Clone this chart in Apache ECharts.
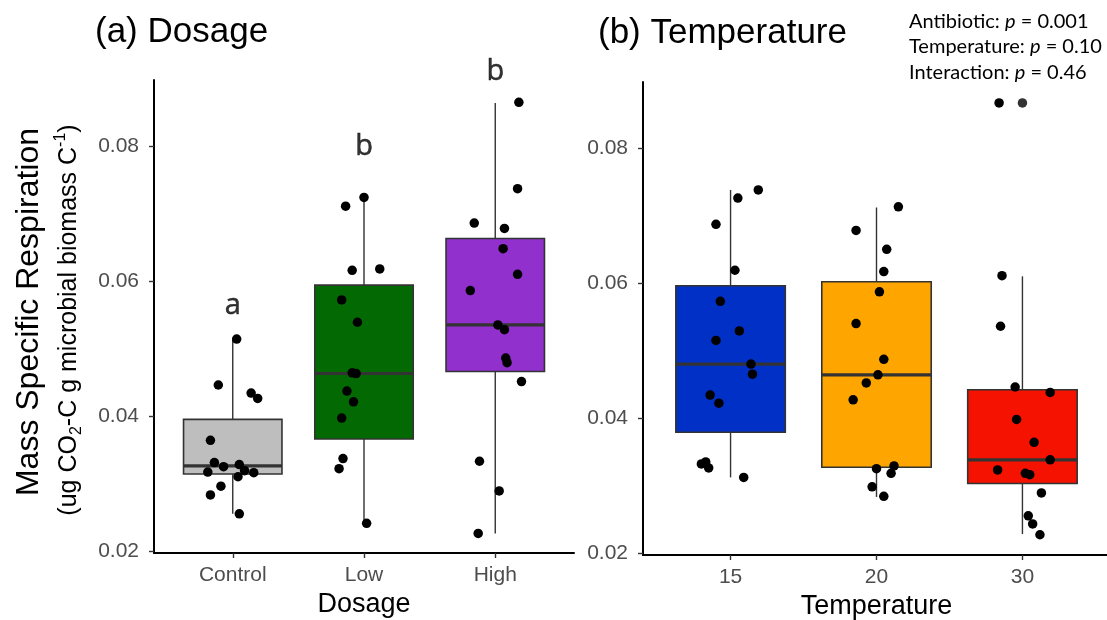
<!DOCTYPE html>
<html>
<head>
<meta charset="utf-8">
<script src="https://cdn.jsdelivr.net/npm/echarts@6/dist/echarts.min.js"></script>
<style>
  html, body { margin: 0; padding: 0; background: #fff; }
  #chart { width: 1107px; height: 620px; }
</style>
</head>
<body>
<div id="chart"></div>
<script>
// ── Data ─────────────────────────────────────────────────────────────────────
const dosageCats = ['Control', 'Low', 'High'];
const tempCats   = ['15', '20', '30'];
const yTicks     = [0.02, 0.04, 0.06, 0.08];

// box stats: [min, q1, median, q3, max]
const dosageBox = [
    [0.0255, 0.0314, 0.0326, 0.0395, 0.0514],
    [0.0241, 0.0366, 0.0463, 0.0594, 0.0723],
    [0.0226, 0.0466, 0.0535, 0.0663, 0.0864]
];
const tempBox = [
    [0.0312, 0.0379, 0.0480, 0.0596, 0.0738],
    [0.0283, 0.0327, 0.0464, 0.0602, 0.0712],
    [0.0228, 0.0303, 0.0338, 0.0442, 0.0610]
];
const tempOutliers = [[3, 0.0867]];

// jittered points, values + horizontal offset from the category centre
const controlVals = [0.0514, 0.0446, 0.0434, 0.0426, 0.0364, 0.0331, 0.0325, 0.0328, 0.0317, 0.0319, 0.0316, 0.0310, 0.0296, 0.0283, 0.0255];
const controlJit  = [0.03, -0.11, 0.14, 0.19, -0.17, -0.14, -0.07, 0.05, -0.19, 0.09, 0.16, 0.04, -0.09, -0.17, 0.05];
const lowVals     = [0.0711, 0.0724, 0.0616, 0.0618, 0.0572, 0.0539, 0.0464, 0.0463, 0.0437, 0.0421, 0.0397, 0.0337, 0.0322, 0.0241];
const lowJit      = [-0.14, 0.00, -0.09, 0.12, -0.17, -0.05, -0.09, -0.06, -0.13, -0.08, -0.17, -0.16, -0.19, 0.02];
const highVals    = [0.0865, 0.0737, 0.0686, 0.0678, 0.0648, 0.0610, 0.0586, 0.0535, 0.0528, 0.0486, 0.0479, 0.0451, 0.0333, 0.0289, 0.0226];
const highJit     = [0.18, 0.17, -0.16, 0.07, 0.06, 0.17, -0.19, 0.02, 0.07, 0.08, 0.09, 0.20, -0.12, 0.03, -0.13];

const t15Vals = [0.0738, 0.0726, 0.0687, 0.0619, 0.0573, 0.0529, 0.0515, 0.0480, 0.0465, 0.0434, 0.0422, 0.0332, 0.0335, 0.0326, 0.0312];
const t15Jit  = [0.19, 0.05, -0.10, 0.03, -0.07, 0.06, -0.10, 0.14, 0.15, -0.14, -0.08, -0.20, -0.17, -0.15, 0.09];
const t20Vals = [0.0713, 0.0678, 0.0650, 0.0617, 0.0587, 0.0540, 0.0487, 0.0464, 0.0452, 0.0427, 0.0325, 0.0329, 0.0318, 0.0298, 0.0284];
const t20Jit  = [0.15, -0.14, 0.07, 0.05, 0.02, -0.14, 0.05, 0.01, -0.07, -0.16, 0.00, 0.12, 0.10, -0.03, 0.05];
const t30Vals = [0.0867, 0.0611, 0.0536, 0.0446, 0.0438, 0.0398, 0.0364, 0.0338, 0.0323, 0.0318, 0.0316, 0.0289, 0.0255, 0.0243, 0.0227];
const t30Jit  = [-0.16, -0.14, -0.15, -0.05, 0.19, -0.04, 0.08, 0.19, -0.17, 0.02, 0.05, 0.13, 0.04, 0.07, 0.12];

const sigLetters = ['a', 'b', 'b'];
const sigY       = [0.0564, 0.0799, 0.0910];

const dosageFills = ['#bebebe', '#036a03', '#9130cc'];
const tempFills   = ['#0030c6', '#ffa500', '#f51200'];

// ── Helpers ──────────────────────────────────────────────────────────────────
const toPoints = (groups) => {
    const out = [];
    groups.forEach((g, i) => {
        g.vals.forEach((v, j) => out.push([i + 1 + g.jit[j], v]));
    });
    return out;
};

const boxRows = (box) => box.map((b, i) => [i + 1].concat(b));

function renderBox(fills) {
    return (params, api) => {
        const x = api.value(0);
        const half = 0.375;
        const wLo = api.coord([x, api.value(1)]);
        const q1L = api.coord([x - half, api.value(2)]);
        const medL = api.coord([x - half, api.value(3)]);
        const medR = api.coord([x + half, api.value(3)]);
        const q3R = api.coord([x + half, api.value(4)]);
        const wHi = api.coord([x, api.value(5)]);
        const stroke = '#333333';
        return {
            type: 'group',
            children: [
                { type: 'line', shape: { x1: wLo[0], y1: wLo[1], x2: wLo[0], y2: q1L[1] }, style: { stroke, lineWidth: 1.4 } },
                { type: 'line', shape: { x1: wHi[0], y1: wHi[1], x2: wHi[0], y2: q3R[1] }, style: { stroke, lineWidth: 1.4 } },
                {
                    type: 'rect',
                    shape: { x: q1L[0], y: q3R[1], width: q3R[0] - q1L[0], height: q1L[1] - q3R[1] },
                    style: { fill: fills[params.dataIndex], stroke, lineWidth: 1.6 }
                },
                { type: 'line', shape: { x1: medL[0], y1: medL[1], x2: medR[0], y2: medR[1] }, style: { stroke, lineWidth: 3.2 } }
            ]
        };
    };
}

const xAxisFor = (gridIndex, cats, name) => ({
    type: 'value', gridIndex, min: 0.4, max: 3.6,
    name, nameLocation: 'middle', nameGap: 37,
    nameTextStyle: { color: '#000', fontSize: 27, fontFamily: 'Liberation Sans' },
    splitLine: { show: false },
    axisLine: { lineStyle: { color: '#000', width: 2 } },
    axisTick: { customValues: [1, 2, 3], length: 5, lineStyle: { color: '#333', width: 1.4 } },
    axisLabel: {
        customValues: [1, 2, 3], margin: 12,
        formatter: (v) => cats[Math.round(v) - 1],
        color: '#4d4d4d', fontSize: 21, fontFamily: 'Liberation Sans'
    }
});

const yAxisFor = (gridIndex) => ({
    type: 'value', gridIndex, min: 0.0197, max: 0.0898,
    splitLine: { show: false },
    axisLine: { show: true, lineStyle: { color: '#000', width: 2 } },
    axisTick: { show: true, customValues: yTicks, length: 5, lineStyle: { color: '#333', width: 1.4 } },
    axisLabel: {
        customValues: yTicks, margin: 15,
        formatter: (v) => v.toFixed(2),
        color: '#4d4d4d', fontSize: 21, fontFamily: 'Liberation Sans'
    }
});

const pointSeries = (idx, data) => ({
    type: 'scatter', xAxisIndex: idx, yAxisIndex: idx,
    data, symbolSize: 9.5, itemStyle: { color: '#000', opacity: 1 }, z: 5, clip: false
});

const pLine = (label, p) => `{n|${label}: }{i|p}{n| = ${p}}`;
const pRich = {
    n: { fontFamily: 'Lato', fontSize: 20, fill: '#000' },
    i: { fontFamily: 'Lato', fontSize: 20, fontStyle: 'italic', fill: '#000' }
};

// ── Chart ────────────────────────────────────────────────────────────────────
const chart = echarts.init(document.getElementById('chart'), null, { renderer: 'canvas' });

chart.setOption({
    animation: false,
    backgroundColor: '#fff',
    grid: [
        { left: 154, top: 80, width: 420, height: 473, outerBoundsMode: 'none' },
        { left: 643, top: 82, width: 467, height: 473, outerBoundsMode: 'none' }
    ],
    xAxis: [xAxisFor(0, dosageCats, 'Dosage'), xAxisFor(1, tempCats, 'Temperature')],
    yAxis: [yAxisFor(0), yAxisFor(1)],
    series: [
        { type: 'custom', xAxisIndex: 0, yAxisIndex: 0, data: boxRows(dosageBox),
          encode: { x: 0, y: [1, 2, 3, 4, 5] }, renderItem: renderBox(dosageFills), z: 2 },
        { type: 'custom', xAxisIndex: 1, yAxisIndex: 1, data: boxRows(tempBox),
          encode: { x: 0, y: [1, 2, 3, 4, 5] }, renderItem: renderBox(tempFills), z: 2 },
        { type: 'scatter', xAxisIndex: 1, yAxisIndex: 1, data: tempOutliers,
          symbolSize: 9.5, itemStyle: { color: '#333', opacity: 1 }, z: 3, clip: false },
        pointSeries(0, toPoints([
            { vals: controlVals, jit: controlJit },
            { vals: lowVals, jit: lowJit },
            { vals: highVals, jit: highJit }
        ])),
        pointSeries(1, toPoints([
            { vals: t15Vals, jit: t15Jit },
            { vals: t20Vals, jit: t20Jit },
            { vals: t30Vals, jit: t30Jit }
        ])),
        {
            type: 'scatter', xAxisIndex: 0, yAxisIndex: 0, clip: false,
            symbolSize: 1, itemStyle: { color: 'rgba(0,0,0,0)' },
            data: sigLetters.map((s, i) => ({ name: s, value: [i + 1, sigY[i]] })),
            label: { show: true, position: 'inside', formatter: '{b}',
                     fontFamily: 'Open Sans', fontSize: 29, color: '#000',
                     textBorderColor: '#000', textBorderWidth: 0.5 }
        }
    ],
    graphic: [
        { type: 'text', x: 95, y: 32,
          style: { text: '(a) Dosage', font: '35px "Liberation Sans"', fill: '#000', textVerticalAlign: 'middle' } },
        { type: 'text', x: 598, y: 33,
          style: { text: '(b) Temperature', font: '35px "Liberation Sans"', fill: '#000', textVerticalAlign: 'middle' } },
        { type: 'text', x: 29, y: 312, rotation: Math.PI / 2,
          style: { text: 'Mass Specific Respiration', font: '32px "Liberation Sans"', fill: '#000',
                   textAlign: 'center', textVerticalAlign: 'middle' } },
        { type: 'text', x: 69, y: 320, rotation: Math.PI / 2,
          style: {
              text: '{n|(ug CO}{sub|2}{n|-C g microbial biomass C}{sup|-1}{n|)}',
              textAlign: 'center', textVerticalAlign: 'middle',
              rich: {
                  n: { fontFamily: 'Liberation Sans', fontSize: 25, lineHeight: 32, fill: '#000', verticalAlign: 'middle' },
                  sub: { fontFamily: 'Liberation Sans', fontSize: 16, lineHeight: 16, fill: '#000', verticalAlign: 'bottom' },
                  sup: { fontFamily: 'Liberation Sans', fontSize: 16, lineHeight: 16, fill: '#000', verticalAlign: 'top' }
              }
          } },
        { type: 'text', x: 909, y: 22,
          style: { text: pLine('Antibiotic', '0.001'), rich: pRich, textVerticalAlign: 'middle' } },
        { type: 'text', x: 909, y: 47,
          style: { text: pLine('Temperature', '0.10'), rich: pRich, textVerticalAlign: 'middle' } },
        { type: 'text', x: 909, y: 73,
          style: { text: pLine('Interaction', '0.46'), rich: pRich, textVerticalAlign: 'middle' } }
    ]
});
</script>
</body>
</html>
